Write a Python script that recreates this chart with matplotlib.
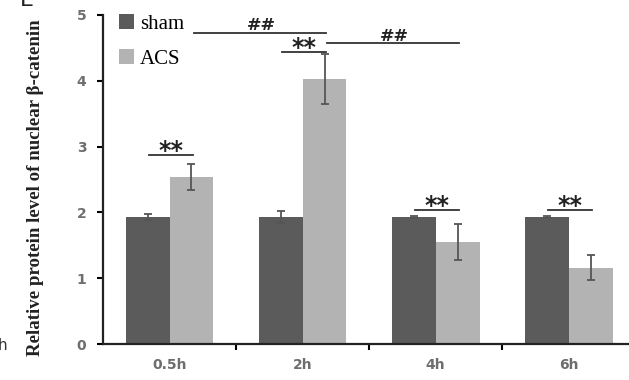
import matplotlib.pyplot as plt
import numpy as np

groups = ['0.5h', '2h', '4h', '6h']
sham = [1.93, 1.93, 1.93, 1.93]
sham_err = [0.04, 0.09, 0.02, 0.02]
acs = [2.54, 4.03, 1.55, 1.16]
acs_err = [0.20, 0.38, 0.28, 0.19]

# significance marks: (group index, line height)
star_marks = [(0, 2.87), (1, 4.44), (2, 2.03), (3, 2.03)]
# hash marks: (from group, to group, line height)
hash_marks = [(0, 1, 4.73), (1, 2, 4.57)]

dark = '#5b5b5b'
light = '#b3b3b3'
w = 0.33

fig = plt.figure(figsize=(6.29, 3.80), dpi=100)
ax = fig.add_axes([0.1638, 0.0947, 0.846, 0.866])
x = np.arange(len(groups))

ax.bar(x - w / 2, sham, w, color=dark, label='sham')
ax.bar(x + w / 2, acs, w, color=light, label='ACS')
ax.errorbar(x - w / 2, sham, yerr=sham_err, fmt='none', ecolor='#555555',
            elinewidth=1.3, capsize=3, capthick=1.3)
ax.errorbar(x + w / 2, acs, yerr=acs_err, fmt='none', ecolor='#555555',
            elinewidth=1.3, capsize=3, capthick=1.3)

for i, h in star_marks:
    ax.plot([i - w / 2 + 0.01, i + w / 2 + 0.01], [h, h], color='#333333', lw=1.3)
    ax.text(i + 0.01, h - 0.12, '**', ha='center', va='bottom',
            fontsize=17, fontweight='bold', color='#222222')
for a, b, h in hash_marks:
    ax.plot([a + w / 2 + 0.02, b + w / 2 + 0.01], [h, h], color='#333333', lw=1.3)
    ax.text((a + b) / 2 + w / 2 + 0.025, h - 0.02, '##', ha='center', va='bottom',
            fontsize=12.5, fontweight='bold', color='#222222', family='DejaVu Serif')

ax.set_xlim(-0.5, 3.5)
ax.set_ylim(0, 5)
ax.set_yticks([0, 1, 2, 3, 4, 5])
ax.set_xticks(x)
ax.set_xticklabels(groups)
ax.set_xticks([0.5, 1.5, 2.5], minor=True)
ax.tick_params(axis='x', which='major', length=0, pad=10)
ax.tick_params(axis='x', which='minor', length=4, width=1.5, direction='out')
ax.tick_params(axis='y', length=4, width=1.5, direction='out', pad=8)
for lab in ax.get_xticklabels() + ax.get_yticklabels():
    lab.set_fontweight('bold')
    lab.set_color('#6e6e6e')
    lab.set_fontsize(10)
    lab.set_family('DejaVu Sans')

for s in ['top', 'right']:
    ax.spines[s].set_visible(False)
ax.spines['left'].set_linewidth(1.6)
ax.spines['bottom'].set_linewidth(1.6)
ax.spines['left'].set_color('#222222')
ax.spines['bottom'].set_color('#222222')

ax.set_ylabel('Relative protein level of nuclear β-catenin', family='Liberation Serif',
              fontweight='bold', fontsize=13.6, color='#222222')
ax.yaxis.set_label_coords(-0.11, 0.475)

ax.legend(loc='upper left', bbox_to_anchor=(-0.005, 1.06), frameon=False,
          prop={'family': 'Liberation Serif', 'size': 15},
          handlelength=0.7, handleheight=0.7, handletextpad=0.3, labelspacing=0.75)

fig.text(0.032, 1.0, 'E', fontsize=16, va='center', ha='left', color='#222222')
fig.text(-0.004, 0.09, 'h', fontsize=11, va='center', ha='left', color='#333333')

fig.savefig('out.png', dpi=100)
